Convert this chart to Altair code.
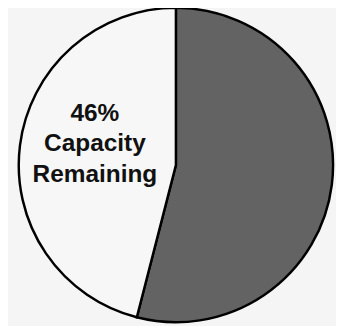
import altair as alt
import pandas as pd

labels = ["Capacity Used", "Capacity Remaining"]
values = [54, 46]
colors = ["#636363", "#f7f7f7"]

text_lines = ["46%", "Capacity", "Remaining"]

df = pd.DataFrame({"label": labels, "value": values, "order": [0, 1]})

pie = alt.Chart(df).mark_arc(
    outerRadius=161, stroke="black", strokeWidth=2.5
).encode(
    theta=alt.Theta("value:Q", stack=True),
    order=alt.Order("order:Q"),
    color=alt.Color("label:N", scale=alt.Scale(domain=labels, range=colors), legend=None),
    x=alt.value(172),
    y=alt.value(157),
)

txt = alt.Chart(pd.DataFrame({"t": [text_lines]})).mark_text(
    font="Liberation Sans", fontSize=25, fontWeight="bold", color="#111111",
    lineHeight=31, align="center", baseline="alphabetic"
).encode(
    text="t",
    x=alt.value(89),
    y=alt.value(112),
)

chart = alt.layer(pie, txt).properties(
    width=336, height=318, background="#f5f5f5", padding=0,
    autosize=alt.AutoSizeParams(type="none"),
).configure_view(stroke=None)

chart.save("out.html", embed_options={"renderer": "svg", "actions": False})
